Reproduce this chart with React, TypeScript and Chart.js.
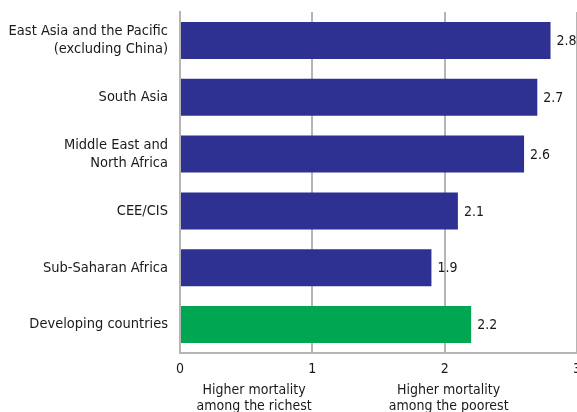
import React, { useEffect, useRef } from 'react';
import { Chart, registerables } from 'chart.js';

Chart.register(...registerables);

const categories: (string | string[])[] = [
  ['East Asia and the Pacific', '(excluding China)'],
  'South Asia',
  ['Middle East and', 'North Africa'],
  'CEE/CIS',
  'Sub-Saharan Africa',
  'Developing countries',
];
const values = [2.8, 2.7, 2.6, 2.1, 1.9, 2.2];
const valueLabels = ['2.8', '2.7', '2.6', '2.1', '1.9', '2.2'];
const barColors = ['#2e3192', '#2e3192', '#2e3192', '#2e3192', '#2e3192', '#00a651'];
const xMin = 0;
const xMax = 3;
const bottomNotes = [
  ['Higher mortality', 'among the richest'],
  ['Higher mortality', 'among the poorest'],
];
const bottomNoteAt = [0.56, 2.03];

const FONT = "'Liberation Sans Narrow', 'DejaVu Sans Condensed', 'Roboto', sans-serif";
const TEXT = '#1a1a1a';
const GRID = '#b5b5b5';

export default function App() {
  const ref = useRef<HTMLCanvasElement | null>(null);

  useEffect(() => {
    document.body.style.margin = '0';
    const canvas = ref.current;
    if (!canvas) return;

    const valueLabelPlugin = {
      id: 'valueLabels',
      afterDatasetsDraw(chart: any) {
        const ctx = chart.ctx;
        const meta = chart.getDatasetMeta(0);
        ctx.save();
        ctx.font = `14px ${FONT}`;
        ctx.fillStyle = TEXT;
        ctx.textAlign = 'left';
        ctx.textBaseline = 'middle';
        meta.data.forEach((bar: any, i: number) => {
          ctx.fillText(valueLabels[i], bar.x + 6, bar.y + 1);
        });
        ctx.restore();
      },
    };

    const bottomNotePlugin = {
      id: 'bottomNotes',
      afterDraw(chart: any) {
        const ctx = chart.ctx;
        const xs = chart.scales.x;
        const bottom = chart.chartArea.bottom;
        ctx.save();
        ctx.font = `14px ${FONT}`;
        ctx.fillStyle = TEXT;
        ctx.textAlign = 'center';
        ctx.textBaseline = 'middle';
        bottomNotes.forEach((lines, i) => {
          const px = xs.getPixelForValue(bottomNoteAt[i]);
          lines.forEach((line, j) => {
            ctx.fillText(line, px, bottom + 37 + j * 16);
          });
        });
        ctx.restore();
      },
    };

    const chart = new Chart(canvas, {
      type: 'bar',
      data: {
        labels: categories,
        datasets: [
          {
            data: values,
            backgroundColor: barColors,
            borderWidth: 0,
            barPercentage: 0.65,
            categoryPercentage: 1,
          },
        ],
      },
      options: {
        indexAxis: 'y',
        responsive: false,
        animation: false,
        layout: { padding: { top: 12, right: 0, left: 0, bottom: 0 } },
        plugins: {
          legend: { display: false },
          tooltip: { enabled: false },
        },
        scales: {
          x: {
            min: xMin,
            max: xMax,
            ticks: {
              stepSize: 1,
              color: TEXT,
              font: { family: FONT, size: 14 },
              padding: 8,
              maxRotation: 0,
            },
            grid: { color: GRID, lineWidth: 2, drawTicks: false },
            border: { color: GRID, width: 2 },
            afterFit: (s: any) => {
              s.height = 59;
              s.paddingRight = 0;
              s.paddingLeft = 0;
            },
          },
          y: {
            ticks: {
              color: TEXT,
              font: { family: FONT, size: 14.5 },
              padding: 12,
            },
            grid: { display: false, drawTicks: false },
            border: { display: true, color: GRID, width: 2 },
            afterFit: (s: any) => {
              s.width = 180;
              s.paddingTop = 0;
              s.paddingBottom = 0;
            },
          },
        },
      },
      plugins: [valueLabelPlugin, bottomNotePlugin],
    } as any);

    return () => chart.destroy();
  }, []);

  return <canvas ref={ref} width={577} height={412} style={{ display: 'block' }} />;
}
